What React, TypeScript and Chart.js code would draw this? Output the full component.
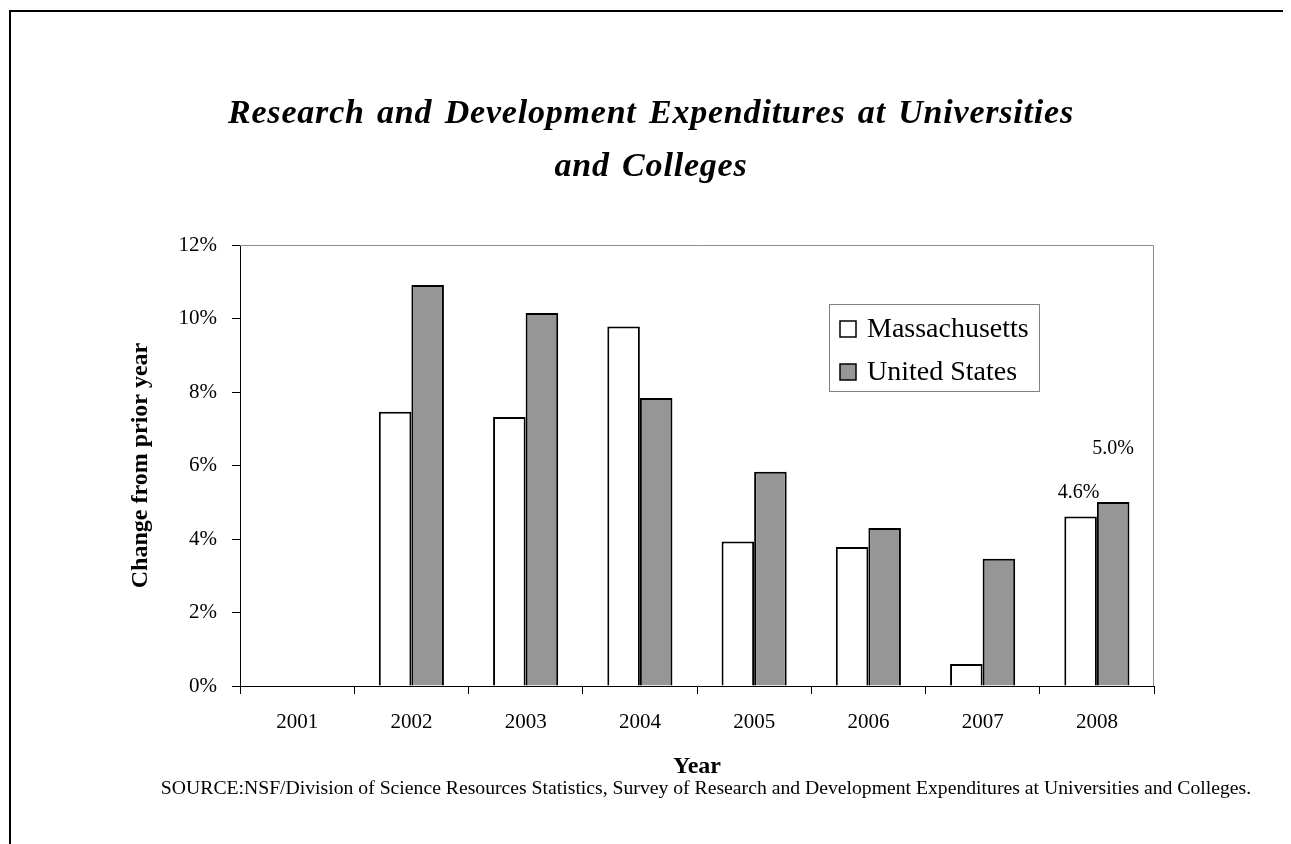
import React, { useEffect, useRef } from 'react';
import { Chart, registerables } from 'chart.js';

Chart.register(...registerables);

const categories = ['2001', '2002', '2003', '2004', '2005', '2006', '2007', '2008'];
const massachusetts = [null, 7.46, 7.32, 9.78, 3.93, 3.78, 0.6, 4.61];
const unitedStates = [null, 10.91, 10.15, 7.84, 5.83, 4.3, 3.46, 5.01];
const yTicks = [0, 2, 4, 6, 8, 10, 12];
const seriesNames = ['Massachusetts', 'United States'];
const seriesColors = ['#ffffff', '#969696'];
const labelledIndex = 7;
const titleLines = ['Research and Development Expenditures at Universities', 'and Colleges'];
const xTitle = 'Year';
const yTitle = 'Change from prior year';
const sourceText =
  'SOURCE:NSF/Division of Science Resources Statistics, Survey of Research and Development Expenditures at Universities and Colleges.';

const SERIF = '"Liberation Serif", "Times New Roman", Times, serif';

const decor = {
  id: 'decor',
  beforeDatasetsDraw(chart: any) {
    const { ctx, chartArea: a } = chart;
    ctx.save();
    ctx.strokeStyle = '#8c8c8c';
    ctx.lineWidth = 1;
    ctx.beginPath();
    ctx.moveTo(a.left, a.top + 0.5);
    ctx.lineTo(a.right - 0.5, a.top + 0.5);
    ctx.lineTo(a.right - 0.5, a.bottom);
    ctx.stroke();
    ctx.restore();
  },
  afterDraw(chart: any) {
    const { ctx, chartArea: a } = chart;
    ctx.save();
    // Title
    ctx.fillStyle = '#000';
    ctx.textAlign = 'center';
    ctx.textBaseline = 'alphabetic';
    ctx.font = `italic bold 34px ${SERIF}`;
    (ctx as any).letterSpacing = '0.8px';
    (ctx as any).wordSpacing = '3px';
    ctx.fillText(titleLines[0], 643, 115);
    ctx.fillText(titleLines[1], 643, 168);
    (ctx as any).letterSpacing = '0px';
    (ctx as any).wordSpacing = '0px';

    // Legend
    const bx = a.left + 589;
    const by = a.top + 59;
    const bw = 210;
    const bh = 87;
    ctx.fillStyle = '#fff';
    ctx.fillRect(bx, by, bw, bh);
    ctx.strokeStyle = '#808080';
    ctx.lineWidth = 1;
    ctx.strokeRect(bx + 0.5, by + 0.5, bw, bh);
    ctx.font = `28px ${SERIF}`;
    ctx.textAlign = 'left';
    ctx.textBaseline = 'middle';
    seriesNames.forEach((name, i) => {
      const cy = by + 25 + i * 43;
      ctx.fillStyle = seriesColors[i];
      ctx.fillRect(bx + 11, cy - 8, 16, 16);
      ctx.strokeStyle = '#000';
      ctx.lineWidth = 1.5;
      ctx.strokeRect(bx + 11, cy - 8, 16, 16);
      ctx.fillStyle = '#000';
      ctx.fillText(name, bx + 38, cy + 1);
    });

    // Data labels
    ctx.font = `20px ${SERIF}`;
    ctx.textAlign = 'center';
    ctx.textBaseline = 'alphabetic';
    const offsets = [19, 48];
    [massachusetts, unitedStates].forEach((arr, i) => {
      const v = arr[labelledIndex];
      if (v == null) return;
      const el = chart.getDatasetMeta(i).data[labelledIndex];
      ctx.fillText(v.toFixed(1) + '%', el.x - (i === 0 ? 2 : 0), el.y - offsets[i]);
    });

    // Source
    ctx.font = `19.7px ${SERIF}`;
    ctx.textBaseline = 'middle';
    ctx.fillText(sourceText, 698, 781);
    ctx.restore();
  },
};

export default function App() {
  const ref = useRef<HTMLCanvasElement>(null);
  useEffect(() => {
    if (!ref.current) return;
    const chart = new Chart(ref.current, {
      type: 'bar',
      data: {
        labels: categories,
        datasets: [
          {
            label: seriesNames[0],
            data: massachusetts as any,
            backgroundColor: seriesColors[0],
            borderColor: '#000',
            borderWidth: 2,
            barPercentage: 1,
            categoryPercentage: 0.57,
          },
          {
            label: seriesNames[1],
            data: unitedStates as any,
            backgroundColor: seriesColors[1],
            borderColor: '#000',
            borderWidth: 2,
            barPercentage: 1,
            categoryPercentage: 0.57,
          },
        ],
      },
      options: {
        responsive: false,
        animation: false,
        layout: { padding: { left: 0, right: 137, top: 237, bottom: 60 } },
        plugins: {
          legend: { display: false },
          tooltip: { enabled: false },
          title: { display: false },
        },
        scales: {
          x: {
            grid: {
              display: true,
              drawOnChartArea: false,
              drawTicks: true,
              tickLength: 8,
              color: '#000',
              offset: true,
            },
            border: { display: true, color: '#000', width: 1 },
            ticks: { color: '#000', font: { family: SERIF, size: 21 }, padding: 16, maxRotation: 0 },
            title: {
              display: true,
              text: xTitle,
              color: '#000',
              font: { family: SERIF, size: 24, weight: 'bold' },
              padding: { top: 0, bottom: 3 },
            },
            afterFit: (s: any) => {
              s.height = 98;
            },
          },
          y: {
            min: 0,
            max: 12,
            afterBuildTicks: (s: any) => {
              s.ticks = yTicks.map((v) => ({ value: v }));
            },
            ticks: {
              color: '#000',
              font: { family: SERIF, size: 21 },
              padding: 15,
              callback: (v: any) => v + '%',
            },
            grid: { drawOnChartArea: false, drawTicks: true, tickLength: 8, color: '#000' },
            border: { display: true, color: '#000', width: 1 },
            title: {
              display: true,
              text: yTitle,
              color: '#000',
              font: { family: SERIF, size: 24, weight: 'bold' },
              padding: { top: 118.6, bottom: 0 },
            },
            afterFit: (s: any) => {
              s.width = 232;
            },
          },
        },
      } as any,
      plugins: [decor],
    });
    return () => chart.destroy();
  }, []);

  return (
    <div style={{ position: 'relative', width: 1283, height: 836, overflow: 'hidden' }}>
      <div
        style={{
          position: 'absolute',
          left: 1,
          top: 2,
          width: 1400,
          height: 1000,
          border: '2px solid #000',
        }}
      />
      <canvas
        ref={ref}
        width={1283}
        height={836}
        style={{ position: 'absolute', left: 0, top: 0, display: 'block' }}
      />
    </div>
  );
}
